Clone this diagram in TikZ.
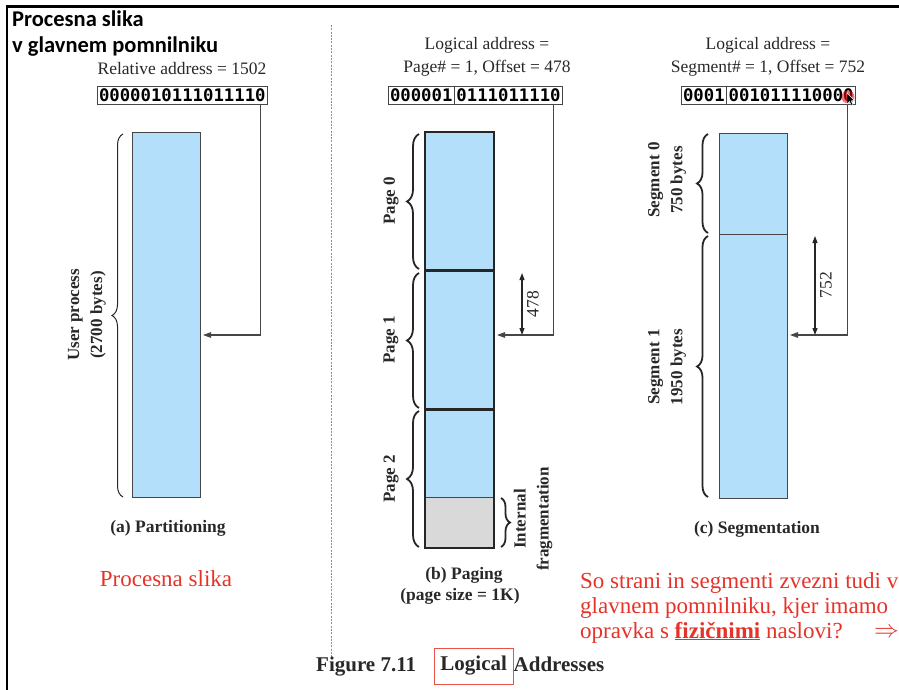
\documentclass[tikz,border=0pt]{standalone}
\usepackage{fontspec}
\setmainfont{Liberation Serif}
\newfontfamily\titlefont{Carlito}
\newfontfamily\bitsfont{DejaVu Sans Mono}
\usetikzlibrary{arrows.meta,decorations.pathreplacing}

\definecolor{memblue}{RGB}{179,223,250}
\definecolor{fraggray}{RGB}{217,217,217}
\definecolor{notered}{RGB}{229,51,41}
\definecolor{inkgray}{RGB}{40,40,40}
\definecolor{linegray}{RGB}{70,70,70}
\definecolor{sepred}{RGB}{215,115,100}

\begin{document}
\begin{tikzpicture}[x=1pt,y=-1pt,
  lbl/.style={font=\fontsize{17.5}{21}\selectfont, text=inkgray, inner sep=0pt},
  bits/.style={draw=linegray, line width=0.9pt, font=\bitsfont\bfseries\fontsize{17.3}{20}\selectfont,
    inner xsep=2pt, inner ysep=0pt, outer sep=0pt, minimum height=18pt, text=black},
  mem/.style={draw=linegray, line width=0.9pt, fill=memblue, inner sep=0pt, outer sep=0pt},
  pagebox/.style={draw=black!85, line width=2.5pt, fill=memblue, inner sep=0pt, outer sep=0pt,
    minimum width=69pt, minimum height=138.67pt, anchor=north west},
  ptr/.style={draw=linegray, line width=1.1pt, -{Triangle[length=8pt,width=5.5pt]}},
  dim/.style={draw=black!85, line width=1.1pt, {Triangle[length=7pt,width=5pt]}-{Triangle[length=7pt,width=5pt]}},
  brc/.style={draw=black!85, line width=1.8pt, decorate, decoration={brace, amplitude=#1}},
  side/.style={font=\bfseries\fontsize{17}{23}\selectfont, text=inkgray, align=center, rotate=90, inner sep=0pt},
  captxt/.style={font=\bfseries\fontsize{17.5}{21}\selectfont, text=inkgray, inner sep=0pt, anchor=base},
  note/.style={font=\fontsize{23}{25}\selectfont, text=notered, inner sep=0pt, anchor=base west},
  figtxt/.style={font=\bfseries\fontsize{21}{25}\selectfont, text=inkgray, inner sep=0pt},
]
\useasboundingbox (0,0) rectangle (899,690);

% slide frame
\draw[line width=3pt] (6,6.5) -- (899,6.5);
\draw[line width=2pt] (7,5) -- (7,690);

% slide title
\node[anchor=base west, font=\titlefont\bfseries\fontsize{22.5}{26}\selectfont, inner sep=0pt] (title1) at (12,27) {Procesna slika};
\node[anchor=base west, font=\titlefont\bfseries\fontsize{22.5}{26}\selectfont, inner sep=0pt] (title2) at (12,53) {v glavnem pomnilniku};

% separator
\draw[sepred, line width=1pt, dash pattern=on 2pt off 1.3pt] (331,25) -- (331,657);

% ---------- (a) Partitioning ----------
\node[lbl, anchor=base] (relA) at (182,75) {Relative address = 1502};
\node[bits, anchor=west] (bA) at (97,95) {0000010111011110};
\node[mem, minimum width=68pt, minimum height=365pt, anchor=north west] (rA) at (132,132) {};
\coordinate (tA) at (203,335);
\draw[ptr] ([xshift=-7pt]bA.south east) |- (tA);
\draw[brc=11pt, line width=1pt] (123,497) -- (123,134);
\node[side] (uA) at (87,315) {User process\\(2700 bytes)};
\node[captxt] (cA) at (168,532) {(a) Partitioning};

% ---------- (b) Paging ----------
\node[lbl, anchor=base] (hB1) at (487,50) {Logical address =};
\node[lbl, anchor=base] (hB2) at (487,73) {Page\# = 1, Offset = 478};
\node[bits, anchor=west] (bB1) at (388,95) {000001};
\node[bits, anchor=west] (bB2) at (bB1.east) {0111011110};

\node[pagebox] (pg0) at (425,132) {};
\node[pagebox] (pg1) at (pg0.south west) {};
\node[pagebox] (pg2) at (pg1.south west) {};
\node[fill=fraggray, inner sep=0pt, outer sep=0pt, minimum width=69pt, minimum height=51pt, anchor=south] (frag) at (pg2.south) {};
\draw[linegray, line width=0.8pt] (frag.north west) -- (frag.north east);
\draw[black!85, line width=2.5pt] (pg2.north west) rectangle (pg2.south east);

\coordinate (tB) at (497,335);
\draw[ptr] ([xshift=-9pt]bB2.south east) |- (tB);
\coordinate (dB1) at (522,273);
\coordinate (dB2) at (522,335);
\draw[dim] (dB1) -- (dB2);
\node[lbl, rotate=90] (n478) at (533,304) {478};

\draw[brc=12pt] (419,269) -- (419,134);
\draw[brc=12pt] (419,408) -- (419,273);
\draw[brc=12pt] (419,547) -- (419,411);
\node[side] (lp0) at (391,201) {Page 0};
\node[side] (lp1) at (391,340) {Page 1};
\node[side] (lp2) at (391,479) {Page 2};
\draw[brc=9pt] (501,498) -- (501,547);
\node[side] (lfr) at (533,519) {Internal\\fragmentation};
\node[captxt] (cB1) at (464,579) {(b) Paging};
\node[captxt] (cB2) at (460,600) {(page size = 1K)};

% ---------- (c) Segmentation ----------
\node[lbl, anchor=base] (hC1) at (768,50) {Logical address =};
\node[lbl, anchor=base] (hC2) at (768,73) {Segment\# = 1, Offset = 752};
\node[bits, anchor=west] (bC1) at (681,95) {0001};
\node[bits, anchor=west] (bC2) at (bC1.east) {001011110000};

\node[mem, minimum width=68pt, minimum height=101pt, anchor=north west] (sg0) at (719,133) {};
\node[mem, minimum width=68pt, minimum height=264pt, anchor=north west] (sg1) at (sg0.south west) {};

\coordinate (tC) at (790,335);
\draw[ptr] ([xshift=-8pt]bC2.south east) |- (tC);
\coordinate (dC1) at (815,236);
\coordinate (dC2) at (815,335);
\draw[dim] (dC1) -- (dC2);
\node[lbl, rotate=90] (n752) at (826,285) {752};

\draw[brc=11pt] (708,233) -- (708,134);
\draw[brc=11pt] (708,497) -- (708,236);
\node[side] (ls0) at (667,180) {Segment 0\\750 bytes};
\node[side] (ls1) at (667,367) {Segment 1\\1950 bytes};
\node[captxt] (cC) at (757,533) {(c) Segmentation};

% pointer highlight
\fill[red, opacity=0.55] (848,97) circle (6.5pt);
\filldraw[fill=black, draw=white, line width=0.4pt] (847,93) -- (847,104) -- (849.5,101.5) -- (851.5,105.5) -- (853,104.8) -- (851,100.8) -- (854.5,100.5) -- cycle;

% ---------- notes ----------
\node[note, anchor=base] (pA) at (166,586) {Procesna slika};
\node[note] (q1) at (580,588) {So strani in segmenti zvezni tudi v};
\node[note] (q2) at (580,613) {glavnem pomnilniku, kjer imamo};
\node[note] (q3) at (580,638) {opravka s \underline{\textbf{fizičnimi}} naslovi?};
\node[note, text height=9pt, text depth=0pt] (q4) at (874,637) {$\Rightarrow$};

% ---------- figure caption ----------
\node[figtxt, anchor=base west] (fig) at (316,671) {Figure 7.11};
\node[figtxt, draw=notered!85, line width=0.8pt, inner xsep=6pt, inner ysep=0pt, minimum height=36pt, anchor=west] (logi) at (434,666) {Logical};
\node[figtxt, anchor=base west] (addr) at (513.5,671) {Addresses};
\end{tikzpicture}
\end{document}
